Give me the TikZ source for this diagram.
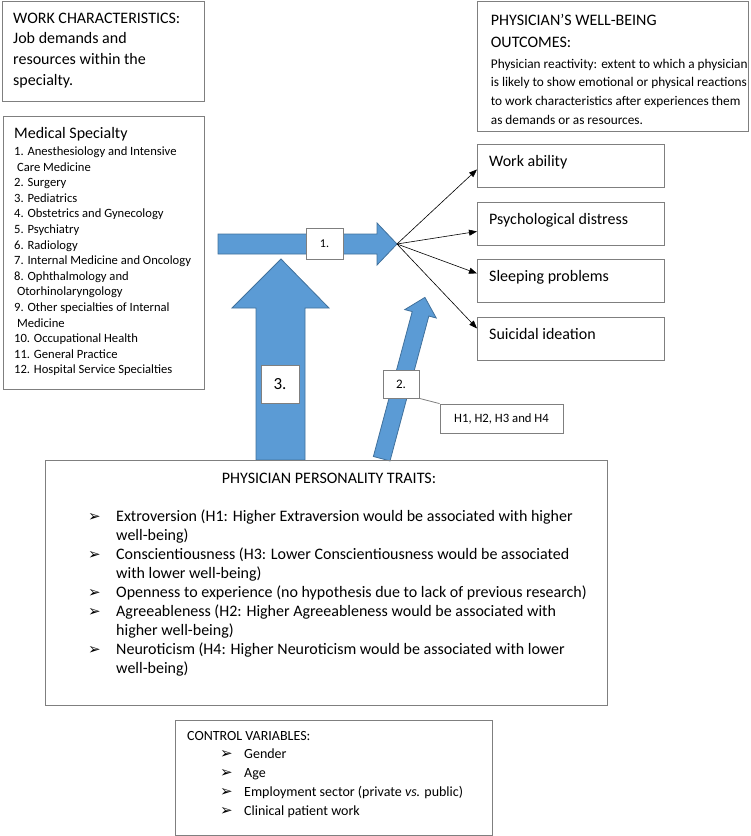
\documentclass[tikz,border=0pt]{standalone}
\usepackage{fontspec}
\setmainfont{Carlito}
\newfontfamily\dejavu{DejaVu Sans}
\usetikzlibrary{positioning,arrows.meta}

\definecolor{boxgray}{RGB}{127,127,127}
\definecolor{arrowblue}{RGB}{91,155,213}
\definecolor{arrowedge}{RGB}{65,113,156}

\newcommand{\bul}{{\dejavu\fontsize{15}{17}\selectfont ➢}}

\tikzset{
  box/.style={draw=boxgray, line width=0.9pt, anchor=north west, inner sep=0pt},
  line/.style={anchor=base west, inner sep=0pt},
  headtxt/.style={font=\fontsize{16}{20}\selectfont},
  desctxt/.style={font=\fontsize{13.3}{16}\selectfont},
  listtxt/.style={font=\fontsize{12.6}{14}\selectfont},
  bodytxt/.style={font=\fontsize{14}{17}\selectfont},
  fat/.style={fill=arrowblue, draw=arrowedge, line width=0.8pt},
  tag/.style={draw=boxgray, fill=white, line width=0.8pt, inner sep=0pt},
  link/.style={-{Triangle[length=8pt,width=6pt]}, line width=0.6pt},
}

\begin{document}
\begin{tikzpicture}[x=1pt, y=-1pt]
  \useasboundingbox (0,0) rectangle (751,836);

  \draw[fat] (218,234) -- (377,234) -- (377,223) -- (397,244) -- (377,265) -- (377,254) -- (218,254) -- cycle;
  \coordinate (hub) at (397,244);
  \draw[fat] (256,460) -- (256,308) -- (232,308) -- (281,259) -- (329,308) -- (305,308) -- (305,460) -- cycle;
  \draw[fat, shift={(381.7,458.7)}, rotate=75] (0,-8.6) -- (150,-8.6) -- (150,-16.3) -- (167,0) -- (150,16.3) -- (150,8.6) -- (0,8.6) -- cycle;

  \node[box, minimum width=202pt, minimum height=100pt] (work) at (2,1) {};
  \node[box, minimum width=271pt, minimum height=130pt] (wellb) at (477,1) {};
  \node[box, minimum width=201pt, minimum height=273pt] (spec) at (3,116) {};
  \node[box, minimum width=562pt, minimum height=245pt] (traits) at (45,460) {};
  \node[box, minimum width=317pt, minimum height=115pt] (ctrl) at (175,720) {};

  \foreach \t [count=\i from 0] in {WORK CHARACTERISTICS:, Job demands and, resources within the, specialty.}
    \node[line, headtxt] (work-\i) at (13,23+20.7*\i) {\t};

  \node[line, headtxt] (wellb-a) at (490.7,25) {PHYSICIAN’S WELL-BEING};
  \node[line, headtxt] (wellb-b) at (490.7,47) {OUTCOMES:};
  \foreach \t [count=\i from 0] in {Physician reactivity: extent to which a physician, is likely to show emotional or physical reactions, to work characteristics after experiences them, as demands or as resources.}
    \node[line, desctxt] (wellb-\i) at (490.7,68+18.7*\i) {\t};

  \node[line, headtxt] (spec-t) at (14,138.5) {Medical Specialty};
  \foreach \t [count=\i from 0] in {1. Anesthesiology and Intensive, \ Care Medicine, 2. Surgery, 3. Pediatrics, 4. Obstetrics and Gynecology, 5. Psychiatry, 6. Radiology, 7. Internal Medicine and Oncology, 8. Ophthalmology and, \ Otorhinolaryngology, 9. Other specialties of Internal, \ Medicine, 10. Occupational Health, 11. General Practice, 12. Hospital Service Specialties}
    \node[line, listtxt] (spec-\i) at (14,155.5+15.6*\i) {\t};

  \foreach \name/\y/\t in {wa/144/Work ability, pd/202/Psychological distress, sp/259/Sleeping problems, si/317/Suicidal ideation} {
    \node[box, minimum width=187pt, minimum height=43pt] (\name) at (477,\y) {};
    \node[line, headtxt] (\name-t) at (489,\y+22) {\t};
  }
  \foreach \name/\dy in {wa/-3.5, pd/-7.5, sp/7.5, si/10.5}
    \draw[link] (hub) -- ([yshift=\dy pt]\name.west);

  \node[tag, minimum width=37pt, minimum height=31pt, font=\fontsize{12}{14}\selectfont] (one) at (324.5,243.5) {1.};
  \node[tag, minimum width=38pt, minimum height=38pt, font=\fontsize{17}{20}\selectfont] (three) at (280,384) {3.};
  \node[tag, minimum width=36pt, minimum height=28pt, font=\fontsize{13}{15}\selectfont] (two) at (401,384) {2.};
  \node[tag, minimum width=123pt, minimum height=29pt, font=\fontsize{12.7}{15}\selectfont] (hyp) at (501.5,418.5) {H1, H2, H3 and H4};
  \draw[boxgray, line width=0.8pt] (two.south east) -- (hyp.north west);

  \node[anchor=base, inner sep=0pt, headtxt] (traits-t) at (329,483) {PHYSICIAN PERSONALITY TRAITS:};
  \foreach \t [count=\i from 0] in {Extroversion (H1: Higher Extraversion would be associated with higher, well-being), Conscientiousness (H3: Lower Conscientiousness would be associated, with lower well-being), Openness to experience (no hypothesis due to lack of previous research), Agreeableness (H2: Higher Agreeableness would be associated with, higher well-being), Neuroticism (H4: Higher Neuroticism would be associated with lower, well-being)}
    \node[line, headtxt] (trait-\i) at (116,521.4+18.96*\i) {\t};
  \foreach \i in {0,2,4,5,7}
    \node[line] (tbul-\i) at (88,521.4+18.96*\i) {\bul};

  \node[line, bodytxt] (ctrl-t) at (187,740.7) {CONTROL VARIABLES:};
  \foreach \t [count=\i from 0] in {Gender, Age, Employment sector (private \textit{vs.} public), Clinical patient work} {
    \node[line, bodytxt] (ctrl-\i) at (244,758.7+19*\i) {\t};
    \node[line] (cbul-\i) at (220,758.7+19*\i) {\bul};
  }
\end{tikzpicture}
\end{document}
